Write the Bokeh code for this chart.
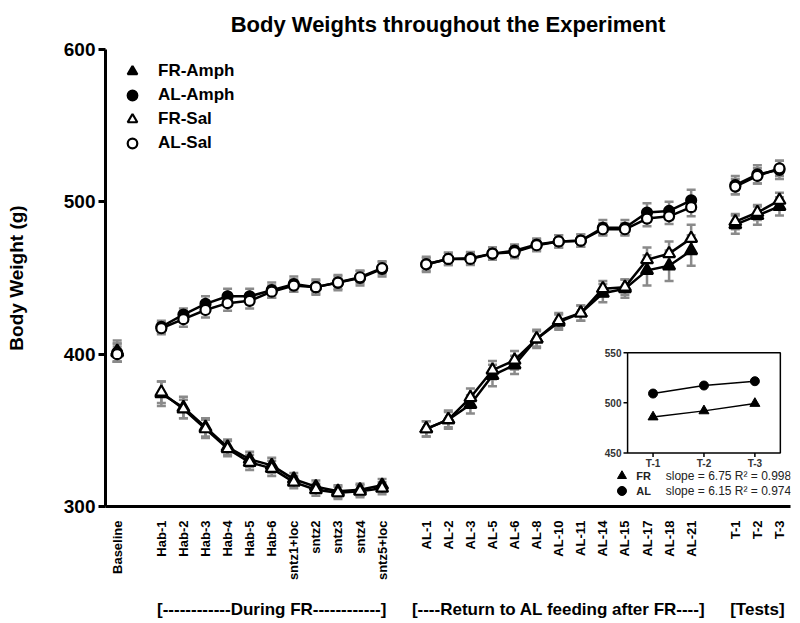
import math
from bokeh.plotting import figure
from bokeh.models import Range1d, FixedTicker, LinearAxis, Legend, LegendItem
from bokeh.core.properties import value
from bokeh.embed import file_html
from bokeh.resources import INLINE

FONT = "Liberation Sans"

# ---------------- data ----------------
title_text = "Body Weights throughout the Experiment"
baseline_labels = ["Baseline"]
fr_labels = ["Hab-1", "Hab-2", "Hab-3", "Hab-4", "Hab-5", "Hab-6",
             "sntz1+loc", "sntz2", "sntz3", "sntz4", "sntz5+loc"]
al_labels = ["AL-1", "AL-2", "AL-3", "AL-5", "AL-6", "AL-8", "AL-10",
             "AL-11", "AL-14", "AL-15", "AL-17", "AL-18", "AL-21"]
test_labels = ["T-1", "T-2", "T-3"]
group_titles = ["[------------During FR------------]",
                "[----Return to AL feeding after FR----]",
                "[Tests]"]
y_ticks = [300, 400, 500, 600]

fr_amph = [402,
           374, 365, 352, 339, 331, 327, 318, 313, 310, 311, 314,
           351, 357, 367, 386, 393, 410, 421, 427, 440, 443, 455, 458, 468,
           485, 491, 497]
fr_amph_sem = [7,
               8, 7, 6, 5, 5, 5, 4, 4, 4, 4, 4,
               5, 6, 6, 7, 6, 6, 5, 5, 6, 6, 10, 10, 10,
               6, 6, 6]
al_amph = [401,
           418, 426, 433, 438, 438, 442, 446, 444, 447, 450, 456,
           459, 462.5, 463, 466, 468, 472, 474, 474.5, 483, 483, 493, 494, 501,
           511, 518, 521]
al_amph_sem = [6,
               4, 4, 5, 5, 5, 5, 5, 5, 5, 5, 5,
               5, 4, 4, 4, 4, 4, 4, 4, 5, 5, 6, 6, 7,
               6, 6, 6]
fr_sal = [401,
          375, 364, 351, 338, 329, 325, 316, 311, 309, 310, 312,
          351, 357, 371.5, 389.5, 396, 410, 422, 427, 443, 444, 462, 466, 476,
          487, 493, 501]
fr_sal_sem = [6,
              7, 6, 6, 5, 5, 5, 4, 4, 4, 4, 4,
              5, 5, 6, 6, 6, 5, 5, 5, 5, 5, 8, 8, 9,
              5, 5, 5]
al_sal = [400,
          417, 423, 429, 433.5, 435, 441, 445, 444, 447, 450.5, 456.5,
          459, 462.5, 462.5, 466, 467, 471.5, 474, 474.5, 482, 482, 489, 490.5, 496.5,
          510, 517, 522]
al_sal_sem = [5,
              4, 5, 5, 5, 5, 4, 4, 4, 4, 4, 4,
              4, 4, 4, 4, 4, 4, 4, 4, 4, 4, 5, 5, 6,
              5, 5, 5]

# inset (test days, group means)
inset_labels = ["T-1", "T-2", "T-3"]
inset_fr = [485.8, 491.9, 499.3]
inset_al = [509.2, 517.2, 521.5]
inset_ticks = [450, 500, 550]
inset_groups = ["FR", "AL"]
inset_markers = ["triangle", "circle"]
inset_stats = ["slope = 6.75 R\u00b2 = 0.998", "slope = 6.15 R\u00b2 = 0.974"]

# ---------------- positions ----------------
groups = [baseline_labels, fr_labels, al_labels, test_labels]
positions, labels, group_centers = [], [], []
cur = 0
for g in groups:
    ps = list(range(cur, cur + len(g)))
    positions += ps
    labels += g
    group_centers.append((ps[0] + ps[-1]) / 2)
    cur = ps[-1] + 2


def with_gaps(xs, ys):
    ox, oy = [], []
    for i, (x, y) in enumerate(zip(xs, ys)):
        if i > 0 and x - xs[i - 1] > 1:
            ox.append(float("nan"))
            oy.append(float("nan"))
        ox.append(x)
        oy.append(y)
    return ox, oy


# ---------------- figure ----------------
W, H = 800, 621
p = figure(width=W, height=H,
           x_range=Range1d(-0.53, 30.5), y_range=Range1d(y_ticks[0], y_ticks[-1]),
           output_backend="svg", toolbar_location=None,
           min_border_left=105, min_border_right=W - 790, min_border_top=48,
           min_border_bottom=H - 508)
p.outline_line_color = None
p.grid.visible = False
p.background_fill_color = "white"

p.title.text = title_text
p.title.align = "center"
p.title.vertical_align = "top"
p.title.text_font = FONT
p.title.text_font_size = "22px"
p.title.text_font_style = "bold"
p.title.text_color = "black"
p.title.standoff = 22

xa = p.below[0]
xa.ticker = FixedTicker(ticks=positions)
xa.major_label_overrides = {pos: lab for pos, lab in zip(positions, labels)}
xa.major_label_orientation = math.pi / 2
xa.major_tick_line_color = None
xa.minor_tick_line_color = None
xa.axis_line_width = 3
xa.axis_line_color = "black"
xa.major_label_text_font = FONT
xa.major_label_text_font_size = "13px"
xa.major_label_text_font_style = "bold"
xa.major_label_text_color = "black"
xa.major_label_standoff = 8

ya = p.left[0]
ya.ticker = FixedTicker(ticks=y_ticks)
ya.axis_line_width = 3
ya.axis_line_color = "black"
ya.major_tick_line_width = 3
ya.major_tick_out = 7
ya.major_tick_in = 0
ya.minor_tick_line_color = None
ya.major_label_text_font = FONT
ya.major_label_text_font_size = "19px"
ya.major_label_text_font_style = "bold"
ya.major_label_text_color = "black"
ya.major_label_standoff = 3
ya.axis_label = "Body Weight (g)"
ya.axis_label_text_font = FONT
ya.axis_label_text_font_size = "19px"
ya.axis_label_text_font_style = "bold"
ya.axis_label_text_color = "black"
ya.axis_label_standoff = 34

ga = LinearAxis(ticker=FixedTicker(ticks=group_centers[1:]),
                major_label_overrides={c: t for c, t in zip(group_centers[1:], group_titles)})
ga.axis_line_color = None
ga.major_tick_line_color = None
ga.minor_tick_line_color = None
ga.major_label_text_font = FONT
ga.major_label_text_font_size = "17px"
ga.major_label_text_font_style = "bold"
ga.major_label_text_color = "black"
ga.major_label_standoff = 10
p.add_layout(ga, "below")

series = [
    ("FR-Amph", fr_amph, fr_amph_sem, "triangle", "black", 12),
    ("AL-Amph", al_amph, al_amph_sem, "circle", "black", 10),
    ("FR-Sal", fr_sal, fr_sal_sem, "triangle", "white", 12),
    ("AL-Sal", al_sal, al_sal_sem, "circle", "white", 10),
]

GRAY = "#8a8a8a"
for name, ys, sem, mk, fill, sz in series:
    lo = [y - s for y, s in zip(ys, sem)]
    hi = [y + s for y, s in zip(ys, sem)]
    p.segment(x0=positions, y0=lo, x1=positions, y1=hi, line_color=GRAY, line_width=2.5)
    p.scatter(x=positions + positions, y=lo + hi, marker="dash", size=9,
              line_color=GRAY, line_width=2.5)

for name, ys, sem, mk, fill, sz in series:
    lx, ly = with_gaps(positions, ys)
    p.line(lx, ly, line_color="black", line_width=2.5)

items = []
for name, ys, sem, mk, fill, sz in series:
    r = p.scatter(x=positions, y=ys, marker=mk, size=sz, fill_color=fill,
                  line_color="black", line_width=2.2)
    items.append(LegendItem(label=name, renderers=[r]))

leg = Legend(items=items, location="top_left")
leg.border_line_color = None
leg.background_fill_alpha = 0
leg.margin = 10
leg.padding = 11
leg.glyph_width = 34
leg.glyph_height = 24
leg.label_height = 20
leg.spacing = 0
leg.label_standoff = 9
leg.label_text_font = FONT
leg.label_text_font_size = "17px"
leg.label_text_font_style = "bold"
leg.label_text_color = "black"
p.add_layout(leg)

# ---------------- inset ----------------
ix = Range1d(0.5, 3.5)
iy = Range1d(inset_ticks[0], inset_ticks[-1])
ins = p.subplot(x_source=ix, y_source=iy,
                x_target=Range1d(23.12, 30.04), y_target=Range1d(335.2, 401.0))
ins.quad(left=[ix.start], right=[ix.end], bottom=[iy.start], top=[iy.end],
         fill_color="white", line_color="black", line_width=1.5)
tx = [1, 2, 3]
ins.segment(x0=[ix.start - 0.08] * 3, y0=inset_ticks, x1=[ix.start] * 3, y1=inset_ticks,
            line_color="black", line_width=1.5)
ins.text(x=[ix.start - 0.12] * 3, y=inset_ticks, text=[str(t) for t in inset_ticks],
         text_align="right", text_baseline="middle", text_font=value(FONT),
         text_font_size="10px", text_font_style="bold", text_color="#333333")
ins.segment(x0=tx, y0=[iy.start] * 3, x1=tx, y1=[iy.start - 4] * 3,
            line_color="black", line_width=1.5)
ins.text(x=tx, y=[iy.start - 5.5] * 3, text=inset_labels,
         text_align="center", text_baseline="top", text_font=value(FONT),
         text_font_size="10px", text_font_style="bold", text_color="#333333")
ins.line(x=tx, y=inset_al, line_color="black", line_width=1.5)
ins.scatter(x=tx, y=inset_al, marker="circle", size=9, fill_color="black", line_color="black")
ins.line(x=tx, y=inset_fr, line_color="black", line_width=1.5)
ins.scatter(x=tx, y=inset_fr, marker="triangle", size=10, fill_color="black", line_color="black")

row_y = [427, 412]
ins.scatter(x=[0.39, 0.39], y=row_y, marker=inset_markers, size=9,
            fill_color="black", line_color="black")
ins.text(x=[0.67, 0.67], y=row_y, text=inset_groups, text_align="left", text_baseline="middle",
         text_font=value(FONT), text_font_size="11px", text_font_style="bold", text_color="#222222")
ins.text(x=[1.25, 1.25], y=row_y, text=inset_stats, text_align="left", text_baseline="middle",
         text_font=value(FONT), text_font_size="12px", text_color="#222222")

open("out.html", "w").write(file_html(p, INLINE))
